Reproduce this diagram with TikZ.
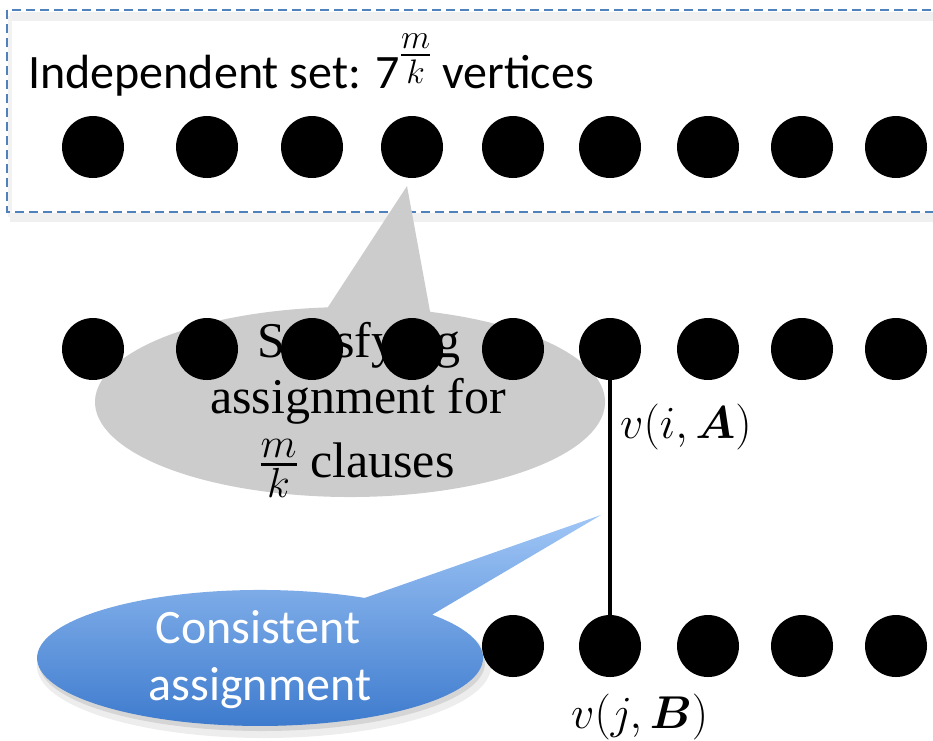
\RequirePackage{fix-cm}
\documentclass[tikz,border=0pt]{standalone}
\usepackage{amsmath}
\usepackage{fontspec}
\setmainfont{Carlito}
\newfontfamily\serifb{Liberation Serif}
\newcommand{\sizedm}[2]{\mbox{\fontsize{#1}{#1}\selectfont$#2$}}
\definecolor{dashblue}{RGB}{79,129,189}
\definecolor{bluetop}{RGB}{160,198,246}
\definecolor{bluebot}{RGB}{58,120,204}
\definecolor{callgray}{RGB}{204,204,204}
\begin{document}
\begin{tikzpicture}[x=1pt,y=-1pt,
  dot/.style={circle,fill=black,minimum size=62pt,inner sep=0pt},
  bigsans/.style={font=\fontsize{48}{58}\selectfont},
  bigserif/.style={font=\serifb\fontsize{50}{60}\selectfont},
  whitesans/.style={font=\fontsize{48}{58}\selectfont,text=white},
  mathlbl/.style={font=\fontsize{46}{54}\selectfont},
  boxshadow/.style={black!6,line width=9pt}]
\useasboundingbox (0,0) rectangle (933,740);
\clip (0,0) rectangle (933,740);
% dashed box with soft shadow
\draw[boxshadow] (10,16) -- (960,16);
\draw[boxshadow] (10,217) -- (960,217);
\draw[black!5,line width=4pt] (10,16) -- (10,217);
\draw[dashblue,line width=1.6pt,dash pattern=on 9pt off 5pt] (7,10) rectangle (960,212);
\node[bigsans,anchor=base west,inner sep=0pt] (ind) at (28,88)
  {Independent set: 7\raisebox{21pt}{$\genfrac{}{}{2.4pt}{}{\sizedm{34}{m}}{\sizedm{34}{k}}$} vertices};
% top row
\foreach \x [count=\i] in {93,207,312,412,513,610,708,802,896}
  \node[dot] (t\i) at (\x,147) {};
% gray callout
\fill[callgray] (407,186) -- (430.1,311.8)
  arc[start angle=-71.7,end angle=265,x radius=255,y radius=95] -- cycle;
\node[bigserif,anchor=base,inner sep=0pt] (s1) at (359,357) {Satisfying};
\node[bigserif,anchor=base,inner sep=0pt] (s2) at (358,413) {assignment for};
\node[bigserif,anchor=base,inner sep=0pt] (s3) at (357,477)
  {$\genfrac{}{}{2.4pt}{}{\sizedm{42}{m}}{\sizedm{42}{k}}$ clauses};
% middle row
\foreach \x [count=\i] in {93,207,312,412,513,610,708,802,896}
  \node[dot] (m\i) at (\x,349) {};
% bottom row
\foreach \x [count=\i] in {513,610,708,802,896}
  \node[dot] (b\i) at (\x,646) {};
\draw[line width=4pt] (m6.center) -- (b2.center);
% blue callout shadow
\fill[black,opacity=0.07] (264,666) ellipse[x radius=227,y radius=72];
\fill[black,opacity=0.10] (262,663) ellipse[x radius=223,y radius=68];
% blue callout
\shade[top color=bluetop,bottom color=bluebot] (601,515) -- (432.1,614.7)
  arc[start angle=-39.5,end angle=298,x radius=223,y radius=68] -- cycle;
\node[whitesans,anchor=base,inner sep=0pt] (c1) at (258,643) {Consistent};
\node[whitesans,anchor=base,inner sep=0pt] (c2) at (260,700) {assignment};
% labels
\node[mathlbl,anchor=base west,inner sep=0pt] (la) at (620,438) {$v(i,\boldsymbol{A})$};
\node[mathlbl,anchor=base west,inner sep=0pt] (lb) at (571,728) {$v(j,\boldsymbol{B})$};
\end{tikzpicture}
\end{document}
